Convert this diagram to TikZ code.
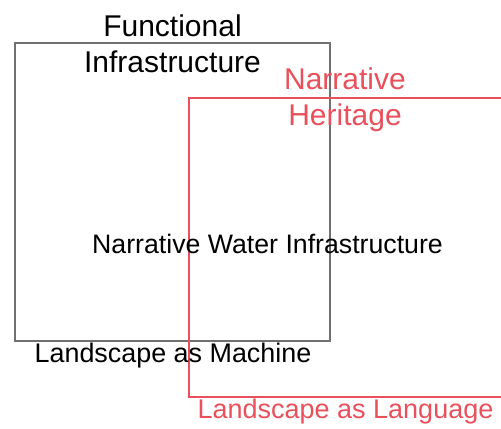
\documentclass[tikz,border=0pt]{standalone}
\usepackage{fontspec}
\setmainfont{Liberation Sans}
\definecolor{boxgray}{HTML}{707070}
\definecolor{boxred}{HTML}{E8505B}
\tikzset{
  lbl/.style={anchor=base, inner sep=0pt, font=\fontsize{26.9bp}{36bp}\selectfont},
  ttl/.style={anchor=base, inner sep=0pt, align=center, font=\fontsize{30bp}{36bp}\selectfont},
  boxline/.style={line width=1.1bp},
}
\begin{document}
\begin{tikzpicture}[x=1bp,y=-1bp]
\useasboundingbox (0,0) rectangle (501,428);
\draw[boxline, boxgray] (15,43) rectangle (330,341);
\draw[boxline, boxred] (189,98) rectangle (502,397);
\node[ttl] (fi) at (172.5,72) {Functional\\Infrastructure};
\node[ttl, text=boxred] (nh) at (345,125) {Narrative\\Heritage};
\node[lbl, font=\fontsize{26.7bp}{36bp}\selectfont] (nwi) at (267.5,253) {Narrative Water Infrastructure};
\node[lbl] (lam) at (173,362.5) {Landscape as Machine};
\node[lbl, font=\fontsize{27bp}{36bp}\selectfont, text=boxred] (lal) at (345.5,418) {Landscape as Language};
\end{tikzpicture}
\end{document}
